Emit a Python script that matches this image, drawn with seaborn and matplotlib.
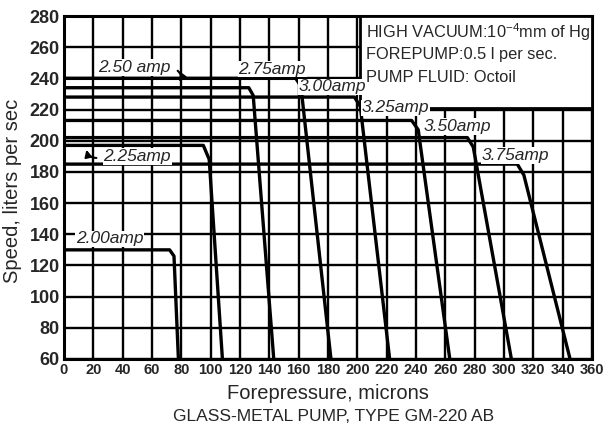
import matplotlib
matplotlib.use("Agg")
import matplotlib.pyplot as plt
import pandas as pd
import seaborn as sns
from matplotlib.patches import Rectangle

# Heater current for each pumping-speed curve
amps = ["2.00", "2.25", "2.50", "2.75", "3.00", "3.25", "3.50", "3.75"]
# Flat pumping speed (liters/sec) at low forepressure
plateau_speed = [130, 197, 234, 240, 228, 213, 202, 185]
# Forepressure (microns) where the flat part ends
plateau_end = [72, 95, 126, 158, 198, 237, 275, 309]
# Point just past the bend, where the steep fall-off begins
bend_x = [75, 99, 129, 161.5, 202, 241.5, 279, 313.5]
bend_speed = [126, 188, 229, 235, 222, 207, 196, 178]
# Forepressure where each curve reaches the bottom of the chart
cutoff_x = [78, 108, 143, 182, 222, 263, 305, 345]
floor_speed = 60

x_ticks = list(range(0, 361, 20))
y_ticks = list(range(60, 281, 20))

rows = []
for a, ps, pe, bx, bs, cx in zip(amps, plateau_speed, plateau_end, bend_x, bend_speed, cutoff_x):
    pts = [(0, ps), (pe, ps), (bx, bs), (cx, floor_speed)]
    for i, (px, py) in enumerate(pts):
        rows.append({"amp": a, "order": i, "pressure": px, "speed": py})
df = pd.DataFrame(rows)

sns.set_style("white")
plt.rcParams["font.family"] = ["Liberation Sans", "DejaVu Sans"]
plt.rcParams["mathtext.fontset"] = "custom"
plt.rcParams["mathtext.rm"] = "Liberation Sans"

fig = plt.figure(figsize=(6.07, 4.29), dpi=100)
ax = fig.add_axes([0.1054, 0.1632, 0.8700, 0.7995])

sns.lineplot(data=df, x="pressure", y="speed", hue="amp", units="amp",
             estimator=None, sort=False, palette=["black"] * len(amps),
             legend=False, linewidth=2.4, ax=ax, zorder=2,
             solid_joinstyle="round", solid_capstyle="butt")

ax.set_xlim(0, 360)
ax.set_ylim(60, 280)
ax.set_xticks(x_ticks)
ax.set_yticks(y_ticks)
ax.set_xticklabels([str(t) for t in x_ticks], fontsize=10.5, fontweight="bold")
ax.set_yticklabels([str(t) for t in y_ticks], fontsize=13, fontweight="bold")
ax.tick_params(length=0, pad=3)
ax.grid(True, color="black", linewidth=1.7)
ax.set_axisbelow(True)
for s in ax.spines.values():
    s.set_visible(True)
    s.set_color("black")
    s.set_linewidth(2.2)

ax.set_xlabel("Forepressure, microns", fontsize=14.5)
ax.xaxis.set_label_coords(0.5, -0.072)
ax.set_ylabel("Speed, liters per sec", fontsize=14.5)
ax.yaxis.set_label_coords(-0.08, 0.49)
fig.text(0.55, 0.03, "GLASS-METAL PUMP, TYPE GM-220 AB", ha="center",
         va="center", fontsize=12.5)

# curve labels
lab = dict(fontsize=12.5, fontstyle="italic", ha="center", va="center", zorder=4,
           bbox=dict(facecolor="white", edgecolor="none", pad=0.5))
label_pos = {"2.00": (31, 137), "2.25": (50, 190), "2.50": (48, 247),
             "2.75": (142, 246), "3.00": (183, 234.5), "3.25": (226, 221),
             "3.50": (268, 209), "3.75": (308, 190.5)}
for a in amps:
    x, y = label_pos[a]
    txt = f"{a} amp" if a == "2.50" else f"{a}amp"
    ax.text(x, y, txt, **lab)

ax.annotate("", xy=(77, 236.5), xytext=(76, 246),
            arrowprops=dict(arrowstyle="-|>", color="black", lw=1.5,
                            connectionstyle="arc3,rad=-0.6"), zorder=4)
ax.annotate("", xy=(15, 196), xytext=(24, 189),
            arrowprops=dict(arrowstyle="-|>", color="black", lw=1.5,
                            connectionstyle="arc3,rad=-0.5"), zorder=4)

# conditions box
ax.add_patch(Rectangle((202, 221), 158, 59, facecolor="white", edgecolor="black",
                       linewidth=2, zorder=3, clip_on=False))
box_lines = ["HIGH VACUUM:10$^{-4}$mm of Hg", "FOREPUMP:0.5 l per sec.",
             "PUMP FLUID: Octoil"]
for i, line in enumerate(box_lines):
    ax.text(206, 269.5 - i * 14.5, line, fontsize=11.8, ha="left", va="center",
            zorder=4)

fig.savefig("out.png", dpi=100)
